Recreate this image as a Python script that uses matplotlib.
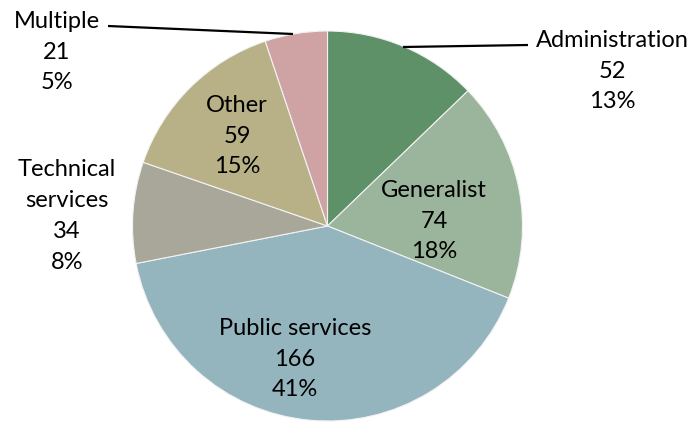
import matplotlib.pyplot as plt

# staff by field
fields = ['Administration', 'Generalist', 'Public services',
          'Technical services', 'Other', 'Multiple']
counts = [52, 74, 166, 34, 59, 21]
colors = ['#5f9169', '#9bb59c', '#94b4be', '#a9a69a', '#b8b087', '#cfa2a4']

# label text positions (pixels, y measured from top)
label_xy = [(612, 71), (434, 221), (295, 359), (67, 216), (237, 136), (57, 52)]
label_names = ['Administration', 'Generalist', 'Public services',
               'Technical\nservices', 'Other', 'Multiple']

W, H = 696, 423
fig = plt.figure(figsize=(W / 100, H / 100), dpi=100)
ax = fig.add_axes([0, 0, 1, 1])

cx, cy, r = 327.5, H - 226, 195
ax.pie(counts, colors=colors, startangle=90, counterclock=False,
       radius=r, center=(cx, cy), frame=True,
       wedgeprops=dict(edgecolor='#f2f2f2', linewidth=0.8))

total = sum(counts)
for name, n, (x, y) in zip(label_names, counts, label_xy):
    pct = round(100 * n / total)
    ax.text(x, H - y, f'{name}\n{n}\n{pct}%', ha='center', va='center',
            fontsize=17, family='Lato', linespacing=1.58, color='black')

# leader lines for the two small outside labels
ax.plot([403, 528], [H - 47, H - 45], color='black', lw=1.6,
        solid_capstyle='butt')
ax.plot([108, 293], [H - 26, H - 34], color='black', lw=1.6,
        solid_capstyle='butt')

ax.set_xlim(0, W)
ax.set_ylim(0, H)
ax.set_aspect('equal')
ax.axis('off')

fig.savefig('out.png', dpi=100)
